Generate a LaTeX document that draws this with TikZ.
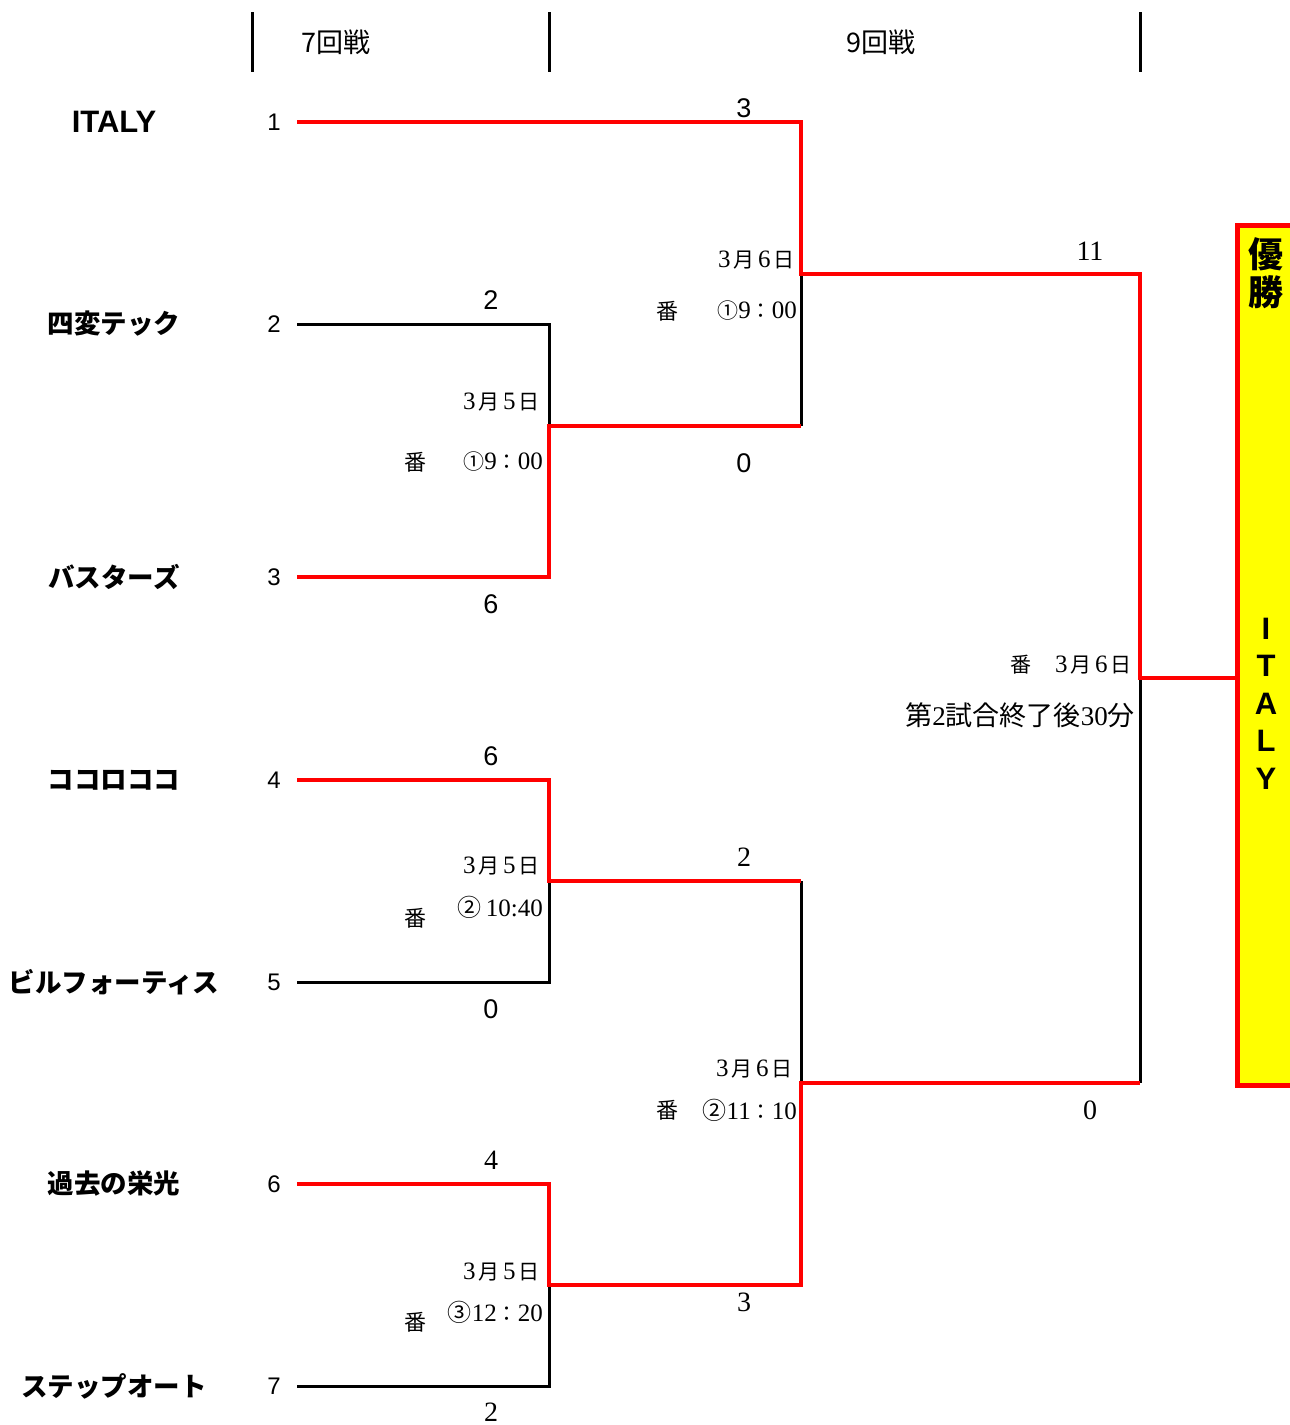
\documentclass[tikz,border=0pt]{standalone}
\usepackage{fontspec}
\setmainfont{Liberation Serif}
\newfontfamily\goth{Noto Sans CJK JP}
\newfontfamily\arial{Liberation Sans}
\newcommand\J[1]{{\goth #1}}
\newcommand\K[1]{{\goth\fs{21}#1}}
\newcommand\C[1]{{\goth\fs{24}#1}}
\newcommand\fs[1]{\fontsize{#1}{#1}\selectfont}
\newcommand\slot[1]{\makebox[19pt]{#1}}
\newcommand\dte[2]{\slot{#1}\K{月}\slot{#2}\K{日}}
\tikzset{
  team/.style={font=\goth\bfseries\fs{26.5}, inner sep=0},
  seed/.style={font=\arial\fs{24}, inner sep=0},
  scs/.style={font=\arial\fs{27}, inner sep=0},
  scr/.style={font=\fs{28}, inner sep=0},
  sched/.style={font=\fs{25}, inner sep=0, anchor=east},
  ban/.style={font=\goth\fs{22}, inner sep=0},
  hdr/.style={font=\goth\fs{27}, inner sep=0},
  hdrline/.style={line width=3pt, black},
  win/.style={line width=4.5pt, draw={rgb,255:red,255;green,0;blue,0}},
  lose/.style={line width=3pt, draw=black},
  champtxt/.style={font=\goth\bfseries\fs{35}, inner sep=0},
  champlet/.style={font=\arial\bfseries\fs{31}, inner sep=0}
}
\begin{document}
\begin{tikzpicture}[x=1pt,y=-1pt]
\useasboundingbox (0,0) rectangle (1290,1425);
\clip (0,0) rectangle (1290,1425);
% header
\draw[hdrline] (252,12) -- (252,72);
\draw[hdrline] (549,12) -- (549,72);
\draw[hdrline] (1140,12) -- (1140,72);
\node[hdr] (h1) at (336,42) {7回戦};
\node[hdr] (h2) at (881,42) {9回戦};
% teams
\node[team, font=\arial\bfseries\fs{31}] (n1) at (114,122) {ITALY};
\node[team] (n2) at (114,324) {四変テック};
\node[team] (n3) at (114,577) {バスターズ};
\node[team] (n4) at (114,780) {ココロココ};
\node[team] (n5) at (114,982) {ビルフォーティス};
\node[team] (n6) at (114,1184) {過去の栄光};
\node[team] (n7) at (114,1386) {ステップオート};
% seeds
\node[seed] (s1) at (274,122) {1};
\node[seed] (s2) at (274,324) {2};
\node[seed] (s3) at (274,577) {3};
\node[seed] (s4) at (274,780) {4};
\node[seed] (s5) at (274,982) {5};
\node[seed] (s6) at (274,1184) {6};
\node[seed] (s7) at (274,1386) {7};
% line starts and junctions
\coordinate (t1) at (297,122);
\coordinate (t2) at (297,324);
\coordinate (t3) at (297,577);
\coordinate (t4) at (297,780);
\coordinate (t5) at (297,982);
\coordinate (t6) at (297,1184);
\coordinate (t7) at (297,1386);
\coordinate (m1) at (549,426);
\coordinate (m2) at (549,881);
\coordinate (m3) at (549,1285);
\coordinate (q1) at (801,274);
\coordinate (q2) at (801,1083);
\coordinate (f) at (1140,678);
% champion box
\node[draw={rgb,255:red,255;green,0;blue,0}, fill={rgb,255:red,255;green,255;blue,0}, line width=5pt, minimum width=90pt, minimum height=860pt, anchor=north west, inner sep=0] (champ) at (1235,223) {};
% losers (black)
\draw[lose] (t2) -| (m1);
\draw[lose] (m1 -| q1) -- (q1);
\draw[lose] (t5) -| (m2);
\draw[lose] (m2 -| q2) -- (q2);
\draw[lose] (t7) -| (m3);
\draw[lose] (q2 -| f) -- (f);
% winners (red)
\draw[win] (t1) -| (q1) -| (f) -- (f -| champ.west);
\draw[win] (t3) -| (m1) -- (m1 -| q1);
\draw[win] (t4) -| (m2) -- (m2 -| q2);
\draw[win] (t6) -| (m3) -| (q2) -- (q2 -| f);
% scores
\node[scs] (r1) at (744,108) {3};
\node[scs] (r2) at (491,300) {2};
\node[scs] (r3) at (491,604) {6};
\node[scs] (r4) at (744,463) {0};
\node[scs] (r5) at (491,756) {6};
\node[scs] (r6) at (491,1009) {0};
\node[scr] (r7) at (744,857) {2};
\node[scr] (r8) at (1090,251) {11};
\node[scr] (r9) at (1090,1110) {0};
\node[scr] (r10) at (491,1160) {4};
\node[scr] (r11) at (744,1302) {3};
\node[scr] (r12) at (491,1412) {2};
% schedules
\node[sched] (d1) at (795,260) {\dte{3}{6}};
\node[ban] (b1) at (667,311) {番};
\node[sched] (k1) at (797,311) {\K{①}9\K{：}00};
\node[sched] (d2) at (540,402) {\dte{3}{5}};
\node[ban] (b2) at (415,462) {番};
\node[sched] (k2) at (543,462) {\K{①}9\K{：}00};
\node[sched] (d3) at (1132,665) {\K{番}\hspace{20pt}\dte{3}{6}};
\node[sched, font=\fs{27}] (d4) at (1135,715) {\J{第}2\J{試合終了後}30\J{分}};
\node[sched] (d5) at (540,866) {\dte{3}{5}};
\node[ban] (b5) at (415,918) {番};
\node[sched] (k5) at (543,907) {\C{②}\,10:40};
\node[sched] (d6) at (793,1069) {\dte{3}{6}};
\node[ban] (b6) at (667,1110) {番};
\node[sched] (k6) at (797,1110) {\C{②}11\K{：}10};
\node[sched] (d7) at (540,1272) {\dte{3}{5}};
\node[ban] (b7) at (415,1322) {番};
\node[sched] (k7) at (543,1312) {\C{③}12\K{：}20};
% champion text
\node[champtxt] (w1) at (1266,254) {優};
\node[champtxt] (w2) at (1266,292) {勝};
\node[champlet] (i1) at (1266,629) {I};
\node[champlet] (i2) at (1266,666) {T};
\node[champlet] (i3) at (1266,704) {A};
\node[champlet] (i4) at (1266,741) {L};
\node[champlet] (i5) at (1266,779) {Y};
\end{tikzpicture}
\end{document}
